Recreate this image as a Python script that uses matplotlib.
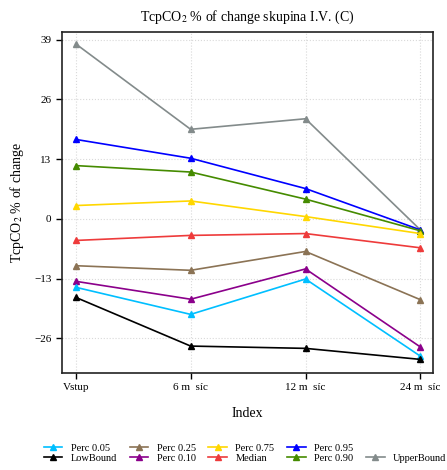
import matplotlib
matplotlib.use("Agg")
import matplotlib.pyplot as plt
from matplotlib.lines import Line2D

plt.rcParams['font.family'] = ['Liberation Serif', 'DejaVu Serif']
plt.rcParams['mathtext.fontset'] = 'stix'

x_labels = ["Vstup", "6 m  síc", "12 m  síc", "24 m  síc"]
x_pos = [1, 2, 3, 4]

upper_bound = [38.1, 19.5, 21.8, -2.4]
perc_95 = [17.3, 13.2, 6.6, -2.4]
perc_90 = [11.6, 10.2, 4.3, -2.6]
perc_75 = [2.9, 3.9, 0.5, -3.2]
median = [-4.7, -3.6, -3.2, -6.3]
perc_25 = [-10.2, -11.2, -7.1, -17.6]
perc_10 = [-13.6, -17.5, -10.9, -27.9]
perc_05 = [-14.9, -20.8, -13.1, -29.9]
low_bound = [-17.1, -27.7, -28.2, -30.6]

series = [
    ("Perc 0.05", perc_05, "#00BFFF"),
    ("LowBound", low_bound, "black"),
    ("Perc 0.25", perc_25, "#8B7355"),
    ("Perc 0.10", perc_10, "#8B008B"),
    ("Perc 0.75", perc_75, "#FFD700"),
    ("Median", median, "#EE3B3B"),
    ("Perc 0.95", perc_95, "#0000FF"),
    ("Perc 0.90", perc_90, "#458B00"),
    ("UpperBound", upper_bound, "#838B8B"),
]

fig = plt.figure(figsize=(4.47, 4.70), dpi=100)
ax = fig.add_axes([0.1387, 0.207, 0.83, 0.725])

# draw from top series down like the original
draw_order = ["UpperBound", "Perc 0.95", "Perc 0.90", "Perc 0.75", "Median",
              "Perc 0.25", "Perc 0.10", "Perc 0.05", "LowBound"]
lookup = {s[0]: s for s in series}
for name in draw_order:
    lab, vals, col = lookup[name]
    ax.plot(x_pos, vals, color=col, lw=1.2, marker='^', ms=4, zorder=3)

ax.set_xlim(0.88, 4.11)
ax.set_ylim(-33.5, 40.7)
ax.set_yticks([-26, -13, 0, 13, 26, 39])
ax.set_xticks(x_pos)
ax.set_xticklabels(x_labels)
ax.grid(True, color='#d9d9d9', ls=':', lw=0.8)
ax.tick_params(labelsize=8, direction='out', length=4, width=1)
for sp in ax.spines.values():
    sp.set_linewidth(1.2)
    sp.set_color('#222222')

ax.set_title("TcpCO$_2$ % of change skupina I.V. (C)", fontsize=10, pad=8)
ax.set_ylabel("TcpCO$_2$ % of change", fontsize=10, labelpad=6)
ax.set_xlabel("Index", fontsize=10, labelpad=11)

handles = []
labels = []
for lab, vals, col in series:
    if lab == "UpperBound":
        handles.append(Line2D([], [], color='none'))
        labels.append("")
    handles.append(Line2D([], [], color=col, lw=1.2, marker='^', ms=4))
    labels.append(lab)

fig.legend(handles, labels, ncol=5, loc='center', bbox_to_anchor=(0.548, 0.036),
           frameon=False, fontsize=7.5, handlelength=1.8, columnspacing=1.2,
           labelspacing=0.1, handletextpad=0.8, borderpad=0.2)

fig.savefig("out.png", dpi=100)
